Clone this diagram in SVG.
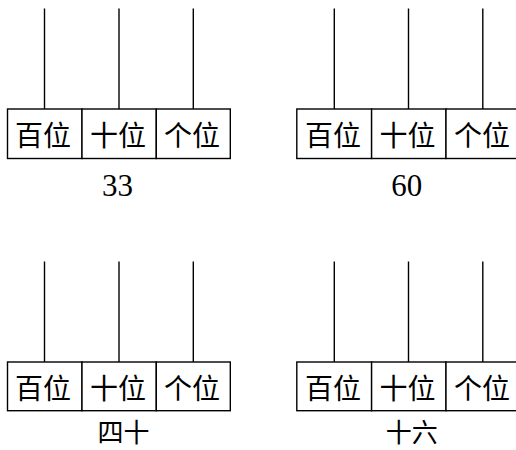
<svg xmlns="http://www.w3.org/2000/svg" width="516" height="450" viewBox="0 0 516 450">
<style>
.cell{fill:#fff;stroke:#000;stroke-width:1.4}
.rod{stroke:#000;stroke-width:1.4;fill:none}
.lbl{font-family:"Noto Sans CJK SC","Noto Sans CJK JP",sans-serif;font-size:28px;fill:#000;text-anchor:middle;dominant-baseline:central}
.num{font-family:"Liberation Serif",serif;font-size:31px;fill:#000;text-anchor:middle}
.cap{font-family:"Noto Sans CJK SC","Noto Sans CJK JP",sans-serif;font-size:26px;fill:#000;text-anchor:middle}
</style>
<rect width="516" height="450" fill="#fff"/>
<g id="connectors">
<line class="rod" x1="44.5" y1="8.5" x2="44.5" y2="109"/>
<line class="rod" x1="119" y1="8.5" x2="119" y2="109"/>
<line class="rod" x1="193.3" y1="8.5" x2="193.3" y2="109"/>
<line class="rod" x1="334.3" y1="8.5" x2="334.3" y2="109"/>
<line class="rod" x1="408.5" y1="8.5" x2="408.5" y2="109"/>
<line class="rod" x1="482.8" y1="8.5" x2="482.8" y2="109"/>
<line class="rod" x1="44.5" y1="261.5" x2="44.5" y2="362"/>
<line class="rod" x1="119" y1="261.5" x2="119" y2="362"/>
<line class="rod" x1="193.3" y1="261.5" x2="193.3" y2="362"/>
<line class="rod" x1="334.3" y1="261.5" x2="334.3" y2="362"/>
<line class="rod" x1="408.5" y1="261.5" x2="408.5" y2="362"/>
<line class="rod" x1="482.8" y1="261.5" x2="482.8" y2="362"/>
</g>
<g id="abacus-33">
<g id="a1-hundreds"><rect class="cell" x="7.5" y="109" width="74.5" height="49.5"/><text class="lbl" x="43" y="134">百位</text></g>
<g id="a1-tens"><rect class="cell" x="82" y="109" width="74.3" height="49.5"/><text class="lbl" x="118" y="134">十位</text></g>
<g id="a1-ones"><rect class="cell" x="156.3" y="109" width="74" height="49.5"/><text class="lbl" x="192" y="134">个位</text></g>
<text class="num" x="117.5" y="196">33</text>
</g>
<g id="abacus-60">
<g id="a2-hundreds"><rect class="cell" x="296.8" y="109" width="74.8" height="49.5"/><text class="lbl" x="333" y="134">百位</text></g>
<g id="a2-tens"><rect class="cell" x="371.6" y="109" width="74.4" height="49.5"/><text class="lbl" x="407.5" y="134">十位</text></g>
<g id="a2-ones"><rect class="cell" x="446" y="109" width="74.5" height="49.5"/><text class="lbl" x="482" y="134">个位</text></g>
<text class="num" x="406.7" y="196">60</text>
</g>
<g id="abacus-40">
<g id="a3-hundreds"><rect class="cell" x="7.5" y="362" width="74.5" height="48.7"/><text class="lbl" x="43" y="386.5">百位</text></g>
<g id="a3-tens"><rect class="cell" x="82" y="362" width="74.3" height="48.7"/><text class="lbl" x="118" y="386.5">十位</text></g>
<g id="a3-ones"><rect class="cell" x="156.3" y="362" width="74" height="48.7"/><text class="lbl" x="192" y="386.5">个位</text></g>
<text class="cap" x="123.4" y="442">四十</text>
</g>
<g id="abacus-16">
<g id="a4-hundreds"><rect class="cell" x="296.8" y="362" width="74.8" height="48.7"/><text class="lbl" x="333" y="386.5">百位</text></g>
<g id="a4-tens"><rect class="cell" x="371.6" y="362" width="74.4" height="48.7"/><text class="lbl" x="407.5" y="386.5">十位</text></g>
<g id="a4-ones"><rect class="cell" x="446" y="362" width="74.5" height="48.7"/><text class="lbl" x="482" y="386.5">个位</text></g>
<text class="cap" x="411.7" y="442">十六</text>
</g>
</svg>
